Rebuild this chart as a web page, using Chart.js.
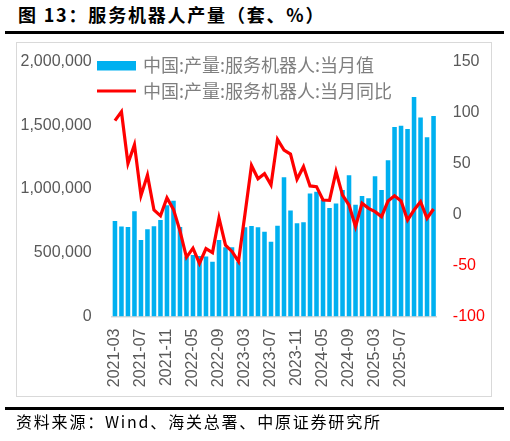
<!DOCTYPE html>
<html>
<head>
<meta charset="utf-8">
<script src="https://cdn.jsdelivr.net/npm/chart.js@4/dist/chart.umd.min.js"></script>
<style>
  html, body { margin: 0; padding: 0; background: #ffffff; }
  body { width: 510px; height: 441px; position: relative; overflow: hidden; }
  #title { position: absolute; left: 18px; top: 3px; font-family: "Noto Sans CJK SC", sans-serif; font-weight: bold; font-size: 18px; letter-spacing: 1.8px; color: #000; white-space: nowrap; line-height: 22px; }
  #rule1 { position: absolute; left: 5px; top: 31px; width: 499px; height: 2.5px; background: #000; }
  #frame { position: absolute; left: 16px; top: 42px; width: 476px; height: 355px; border: 1px solid #d9d9d9; box-sizing: border-box; }
  #rule2 { position: absolute; left: 5px; top: 407px; width: 499px; height: 2.5px; background: #000; }
  #source { position: absolute; left: 16px; top: 410px; font-family: "Noto Sans CJK SC", sans-serif; font-size: 16px; letter-spacing: 1.8px; color: #000; white-space: nowrap; line-height: 22px; }
  #c { position: absolute; left: 0; top: 0; }
</style>
</head>
<body>
<div id="title">图 13：服务机器人产量（套、%）</div>
<div id="rule1"></div>
<div id="frame"></div>
<canvas id="c" width="510" height="441"></canvas>
<div id="rule2"></div>
<div id="source">资料来源：Wind、海关总署、中原证券研究所</div>
<script>
const categories = [
  "2021-03","2021-04","2021-05","2021-06","2021-07","2021-08","2021-09","2021-10","2021-11","2021-12",
  "2022-03","2022-04","2022-05","2022-06","2022-07","2022-08","2022-09","2022-10","2022-11","2022-12",
  "2023-03","2023-04","2023-05","2023-06","2023-07","2023-08","2023-09","2023-10","2023-11","2023-12",
  "2024-03","2024-04","2024-05","2024-06","2024-07","2024-08","2024-09","2024-10","2024-11","2024-12",
  "2025-03","2025-04","2025-05","2025-06","2025-07","2025-08","2025-09","2025-10","2025-11","2025-12"
];
const shownTickLabels = [
  "2021-03","2021-07","2021-11","2022-05","2022-09","2023-03",
  "2023-07","2023-11","2024-05","2024-09","2025-03","2025-07"
];
const outputMonthly = [
  750000, 705000, 702000, 825000, 600000, 684000, 707000, 757000, 872000, 908000,
  702000, 470000, 482000, 475000, 470000, 430000, 600000, 543000, 543000, 430000,
  700000, 710000, 700000, 665000, 587000, 711000, 1092000, 832000, 731000, 740000,
  965000, 979000, 914000, 851000, 887000, 992000, 1107000, 877000, 945000, 927000,
  1100000, 992000, 1225000, 1486000, 1497000, 1471000, 1722000, 1560000, 1405000, 1573000
];
const outputYoY = [
  92, 100.8, 50, 68.5, 18.5, 38.7, 4.4, -1.3, 16.3, 5,
  -16, -42, -33, -48, -33.5, -37.4, -3.3, -30, -36.2, -46,
  0.5, 48, 35, 40, 29, 73.7, 63.2, 59.3, 34.5, 46.9,
  28, 27.3, 14.2, 13.8, 42, 19, 9.3, -12, 11, 6,
  2.8, -2.1, 13.2, 18.4, 13.2, -5.4, 4.4, 12.5, -3.7, 5.4
];
const seriesNames = ["中国:产量:服务机器人:当月值", "中国:产量:服务机器人:当月同比"];
const leftTicks = [0, 500000, 1000000, 1500000, 2000000];
const rightTicks = [-100, -50, 0, 50, 100, 150];

const BLUE = "#00B0F0";
const RED = "#FF0000";
const GRAY = "#595959";

const legendPlugin = {
  id: "customLegend",
  afterDraw(chart) {
    const ctx = chart.ctx;
    ctx.save();
    ctx.fillStyle = BLUE;
    ctx.fillRect(97, 61, 39, 9.5);
    ctx.strokeStyle = RED;
    ctx.lineWidth = 3;
    ctx.beginPath();
    ctx.moveTo(97, 91);
    ctx.lineTo(136, 91);
    ctx.stroke();
    ctx.fillStyle = "#7f7f7f";
    ctx.font = '18px "Noto Sans CJK SC"';
    ctx.textBaseline = "middle";
    ctx.textAlign = "left";
    ctx.fillText(seriesNames[0], 143, 65);
    ctx.fillText(seriesNames[1], 143, 91);
    ctx.restore();
  }
};

new Chart(document.getElementById("c"), {
  data: {
    labels: categories,
    datasets: [
      {
        type: "line",
        label: seriesNames[1],
        data: outputYoY,
        yAxisID: "y1",
        borderColor: RED,
        backgroundColor: RED,
        borderWidth: 3.2,
        pointRadius: 0,
        tension: 0,
        order: 0
      },
      {
        type: "bar",
        label: seriesNames[0],
        data: outputMonthly,
        yAxisID: "y",
        backgroundColor: BLUE,
        borderWidth: 0,
        barPercentage: 0.7,
        categoryPercentage: 1.0,
        order: 1
      }
    ]
  },
  options: {
    responsive: false,
    animation: false,
    devicePixelRatio: 1,
    layout: { padding: { left: 0, right: 0, top: 61.5, bottom: 40 } },
    plugins: { legend: { display: false }, tooltip: { enabled: false }, title: { display: false } },
    scales: {
      x: {
        offset: true,
        grid: { display: false, drawTicks: false },
        border: { display: true, color: "#d9d9d9", width: 1.5 },
        ticks: {
          autoSkip: false,
          maxRotation: 90,
          minRotation: 90,
          padding: 12,
          color: GRAY,
          font: { family: "Liberation Sans", size: 16 },
          callback: function (v, i) { return shownTickLabels.includes(categories[i]) ? categories[i] : ""; }
        },
        afterFit(scale) { scale.height = 84.5; }
      },
      y: {
        position: "left",
        min: 0,
        max: 2000000,
        grid: { display: false, drawTicks: false },
        border: { display: false },
        afterBuildTicks(scale) { scale.ticks = leftTicks.map(v => ({ value: v })); },
        ticks: {
          padding: 20,
          color: GRAY,
          font: { family: "Liberation Sans", size: 16 },
          callback: v => Number(v).toLocaleString("en-US")
        },
        afterFit(scale) { scale.width = 111.7; }
      },
      y1: {
        position: "right",
        min: -100,
        max: 150,
        grid: { display: false, drawTicks: false },
        border: { display: false },
        afterBuildTicks(scale) { scale.ticks = rightTicks.map(v => ({ value: v })); },
        ticks: {
          padding: 16,
          color: ctx => (ctx.tick && ctx.tick.value < 0 ? RED : GRAY),
          font: { family: "Liberation Sans", size: 16 },
          callback: v => String(v)
        },
        afterFit(scale) { scale.width = 73.2; }
      }
    }
  },
  plugins: [legendPlugin]
});
</script>
</body>
</html>
